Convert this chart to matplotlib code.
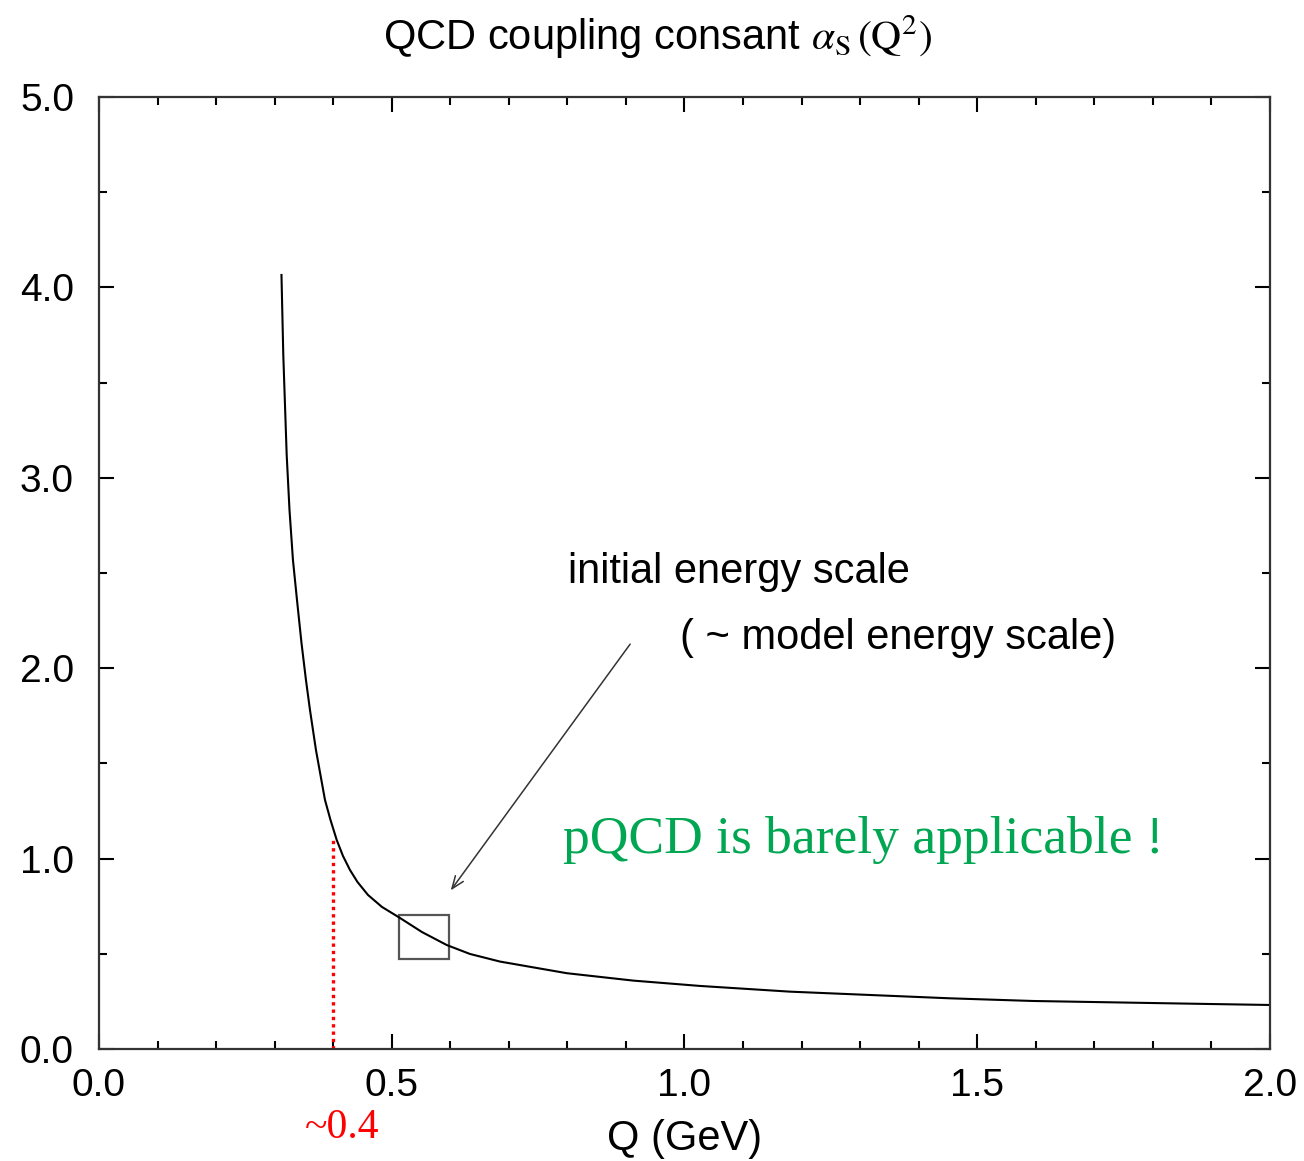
import numpy as np
import matplotlib
matplotlib.use("Agg")
import matplotlib.pyplot as plt
from matplotlib.patches import Rectangle

plt.rcParams['font.family'] = 'Liberation Sans'
plt.rcParams['mathtext.fontset'] = 'stix'

# curve
q_gev = [0.3117, 0.3148, 0.3206, 0.3254, 0.3313, 0.3382, 0.3459, 0.3535,
         0.3604, 0.3706, 0.3860, 0.3954, 0.4060, 0.4167, 0.4287, 0.4415,
         0.4594, 0.4833, 0.5141, 0.5517, 0.5939, 0.6336, 0.6849, 0.7988,
         0.9126, 1.0265, 1.1802, 1.4535, 1.5952, 1.7660, 1.9004, 2.0]
alpha_s = [4.065, 3.645, 3.120, 2.831, 2.568, 2.358, 2.132, 1.938,
           1.780, 1.570, 1.308, 1.203, 1.098, 1.014, 0.940, 0.877,
           0.809, 0.746, 0.688, 0.614, 0.546, 0.499, 0.459, 0.398,
           0.359, 0.331, 0.301, 0.266, 0.252, 0.243, 0.236, 0.231]

q_cut = 0.4
alpha_cut = 1.115
box_q = [0.513, 0.597]
box_alpha = [0.473, 0.704]
arrow_tip = (0.598, 0.821)
arrow_tail = (0.910, 2.138)

fig = plt.figure(figsize=(13.04, 11.61), dpi=100)
ax = fig.add_axes([0.0759, 0.0965, 0.898, 0.82])

ax.plot(q_gev, alpha_s, color='black', lw=1.5, solid_joinstyle='round')

# red dotted marker at ~0.4
ax.plot([q_cut, q_cut], [0, alpha_cut], color='red', lw=2.4, ls=(0, (1, 1.2)))
ax.text(0.352, -0.415, '~0.4', color='red', fontsize=30, family='Liberation Serif',
        ha='left', va='center', clip_on=False)

# box and arrow
ax.add_patch(Rectangle((box_q[0], box_alpha[0]), box_q[1] - box_q[0],
                       box_alpha[1] - box_alpha[0], fill=False, ec='#555555', lw=1.6))
ax.annotate('', xy=arrow_tip, xytext=arrow_tail,
            arrowprops=dict(arrowstyle='->,head_length=0.9,head_width=0.35',
                            color='#333333', lw=1.1))

ax.text(0.801, 2.505, 'initial energy scale', fontsize=30, ha='left', va='center')
ax.text(0.992, 2.159, '( ~ model energy scale)', fontsize=30, ha='left', va='center')
ax.text(0.7925, 1.098, 'pQCD is barely applicable !', color='#00a651', fontsize=38.5,
        family='Liberation Serif', ha='left', va='center')

ax.set_xlim(0, 2.0)
ax.set_ylim(0, 5.0)
ax.set_xticks([0, 0.5, 1.0, 1.5, 2.0])
ax.set_xticklabels(['0.0', '0.5', '1.0', '1.5', '2.0'])
ax.set_xticks(np.arange(0, 2.01, 0.1), minor=True)
ax.set_yticks([0, 1, 2, 3, 4, 5])
ax.set_yticklabels(['0.0', '1.0', '2.0', '3.0', '4.0', '5.0'])
ax.set_yticks(np.arange(0, 5.01, 0.5), minor=True)
ax.tick_params(which='both', direction='in', top=True, right=True, labelsize=28,
               width=1.5, colors='black')
ax.tick_params(which='major', length=10.5)
ax.tick_params(which='minor', length=5.5)
ax.tick_params(axis='x', pad=14)
ax.tick_params(axis='y', pad=18)
for s in ax.spines.values():
    s.set_linewidth(1.6)
    s.set_color('#333333')

ax.set_xlabel('Q (GeV)', fontsize=30)
ax.xaxis.set_label_coords(0.5, -0.074)
fig.text(0.504, 0.968, r'QCD coupling consant $\alpha_{\rm S}\,(\mathrm{Q}^2)$',
         fontsize=30, ha='center', va='center')

fig.savefig('out.png', dpi=100)
